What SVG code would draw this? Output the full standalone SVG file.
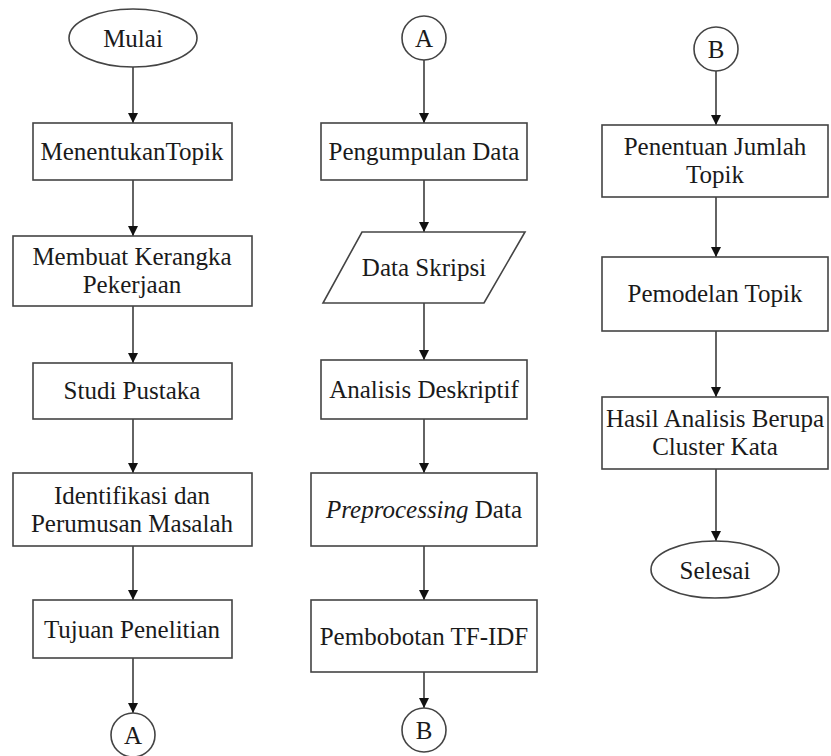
<svg xmlns="http://www.w3.org/2000/svg" width="831" height="756" viewBox="0 0 831 756">
<style>
.s{fill:#fff;stroke:#444;stroke-width:1.6}
.t{font-family:"Liberation Serif","Times New Roman",serif;font-size:25px;fill:#1a1a1a;text-anchor:middle}
.c{stroke:#222;stroke-width:1.4;fill:none;marker-end:url(#ah)}
</style>
<defs>
<marker id="ah" viewBox="0 0 10 10" refX="10" refY="5" markerWidth="10" markerHeight="10" markerUnits="userSpaceOnUse" orient="auto">
<path d="M0,0 L10,5 L0,10 Z" fill="#111"/>
</marker>
</defs>
<rect width="831" height="756" fill="#fff"/>
<g id="connectors">
<line class="c" x1="133" y1="67" x2="133" y2="123"/>
<line class="c" x1="133" y1="180" x2="133" y2="236"/>
<line class="c" x1="133" y1="306" x2="133" y2="363"/>
<line class="c" x1="133" y1="419" x2="133" y2="473"/>
<line class="c" x1="133" y1="546" x2="133" y2="600"/>
<line class="c" x1="133" y1="658" x2="133" y2="713"/>
<line class="c" x1="424" y1="60" x2="424" y2="123"/>
<line class="c" x1="424" y1="180" x2="424" y2="232"/>
<line class="c" x1="424" y1="303" x2="424" y2="360"/>
<line class="c" x1="424" y1="419" x2="424" y2="473"/>
<line class="c" x1="424" y1="546" x2="424" y2="600"/>
<line class="c" x1="424" y1="672" x2="424" y2="708"/>
<line class="c" x1="716" y1="71" x2="716" y2="125"/>
<line class="c" x1="716" y1="197" x2="716" y2="257"/>
<line class="c" x1="716" y1="331" x2="716" y2="397"/>
<line class="c" x1="716" y1="469" x2="716" y2="541"/>
</g>
<g id="mulai"><ellipse class="s" cx="133" cy="38" rx="64" ry="29"/><text class="t" x="133" y="47">Mulai</text></g>
<g id="topik"><rect class="s" x="33" y="123" width="199" height="57"/><text class="t" x="132" y="160">MenentukanTopik</text></g>
<g id="kerangka"><rect class="s" x="13" y="236" width="239" height="70"/><text class="t" x="132" y="265">Membuat Kerangka</text><text class="t" x="132" y="293">Pekerjaan</text></g>
<g id="studi"><rect class="s" x="33" y="363" width="199" height="56"/><text class="t" x="132" y="399">Studi Pustaka</text></g>
<g id="identifikasi"><rect class="s" x="13" y="473" width="239" height="73"/><text class="t" x="132" y="504">Identifikasi dan</text><text class="t" x="132" y="532">Perumusan Masalah</text></g>
<g id="tujuan"><rect class="s" x="33" y="600" width="199" height="58"/><text class="t" x="132" y="638">Tujuan Penelitian</text></g>
<g id="a1"><circle class="s" cx="133" cy="735" r="22"/><text class="t" x="133" y="744">A</text></g>
<g id="a2"><circle class="s" cx="424" cy="38" r="22"/><text class="t" x="424" y="47">A</text></g>
<g id="pengumpulan"><rect class="s" x="321" y="123" width="206" height="57"/><text class="t" x="424" y="160">Pengumpulan Data</text></g>
<g id="skripsi"><polygon class="s" points="362,232 525,232 484,303 323,303"/><text class="t" x="424" y="276">Data Skripsi</text></g>
<g id="deskriptif"><rect class="s" x="321" y="360" width="206" height="59"/><text class="t" x="424" y="398">Analisis Deskriptif</text></g>
<g id="preprocessing"><rect class="s" x="311" y="473" width="226" height="73"/><text class="t" x="424" y="518"><tspan font-style="italic">Preprocessing</tspan> Data</text></g>
<g id="tfidf"><rect class="s" x="311" y="600" width="226" height="72"/><text class="t" x="424" y="645">Pembobotan TF-IDF</text></g>
<g id="b1"><circle class="s" cx="424" cy="730" r="22"/><text class="t" x="424" y="739">B</text></g>
<g id="b2"><circle class="s" cx="716" cy="49" r="22"/><text class="t" x="716" y="58">B</text></g>
<g id="jumlah"><rect class="s" x="602" y="125" width="226" height="72"/><text class="t" x="715" y="155">Penentuan Jumlah</text><text class="t" x="715" y="183">Topik</text></g>
<g id="pemodelan"><rect class="s" x="602" y="257" width="226" height="74"/><text class="t" x="715" y="302">Pemodelan Topik</text></g>
<g id="hasil"><rect class="s" x="602" y="397" width="226" height="72"/><text class="t" x="715" y="427">Hasil Analisis Berupa</text><text class="t" x="715" y="455">Cluster Kata</text></g>
<g id="selesai"><ellipse class="s" cx="715" cy="569.5" rx="64" ry="28.5"/><text class="t" x="715" y="579">Selesai</text></g>
</svg>
